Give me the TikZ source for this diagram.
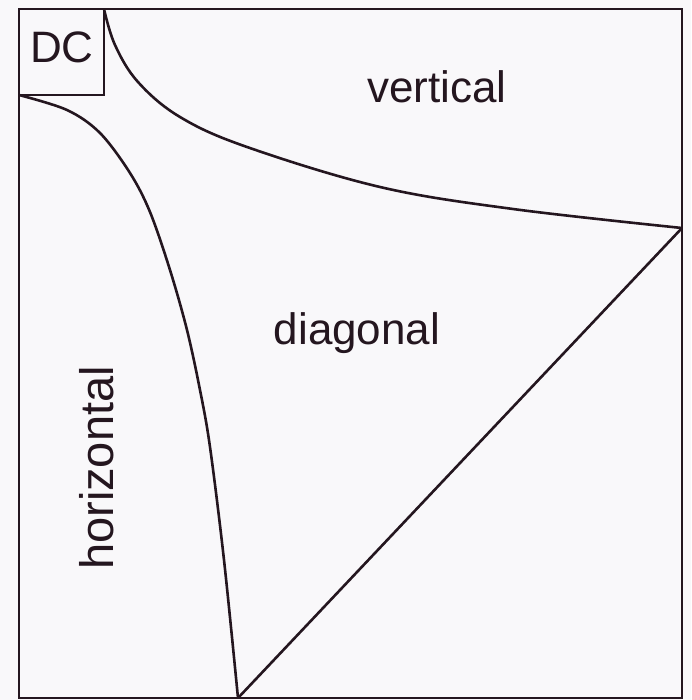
\documentclass[tikz,border=0pt]{standalone}
\usepackage{fontspec}
\setmainfont{Liberation Sans}
\definecolor{ink}{HTML}{24161F}
\definecolor{paper}{HTML}{F9F8FA}
\begin{document}
\begin{tikzpicture}[x=1pt,y=-1pt,
  frame/.style={draw=ink,line width=2.6pt},
  curve/.style={draw=ink,line width=2.6pt,line join=round},
  lbl/.style={text=ink,font=\fontsize{44}{50}\selectfont,inner sep=0pt}]
\fill[paper] (0,0) rectangle (691,700);
\useasboundingbox (0,0) rectangle (691,700);
% corners
\coordinate (tl) at (19,9);
\coordinate (br) at (682,698);
\coordinate (dcbr) at (104,95);
\coordinate (vstart) at (104,9);
\coordinate (hstart) at (19,95);
\coordinate (rpt) at (682,228);
\coordinate (bpt) at (238,698);
% outer frame and DC box
\draw[frame] (tl) rectangle (br);
\draw[frame] (tl) rectangle (dcbr);
\node[lbl,anchor=base] (dc) at (62,63) {DC};
% vertical boundary
\draw[curve] plot[smooth,tension=0.6] coordinates
  {(vstart) (115,45) (138,82) (180,117) (247,147) (380,187) (513,209) (rpt)};
% horizontal boundary
\draw[curve] plot[smooth,tension=0.55] coordinates
  {(hstart) (67,110) (100,133) (130,173) (150,212) (170,270) (187,330) (200,390) (210,447) (224,560) (bpt)};
% diagonal boundary
\draw[curve] (bpt) -- (rpt);
% labels
\node[lbl,anchor=base] (vert) at (437,103) {vertical};
\node[lbl,anchor=base] (diag) at (357,344) {diagonal};
\node[lbl,anchor=base,rotate=90,font=\fontsize{47}{52}\selectfont] (horz) at (113,468) {horizontal};
\end{tikzpicture}
\end{document}
